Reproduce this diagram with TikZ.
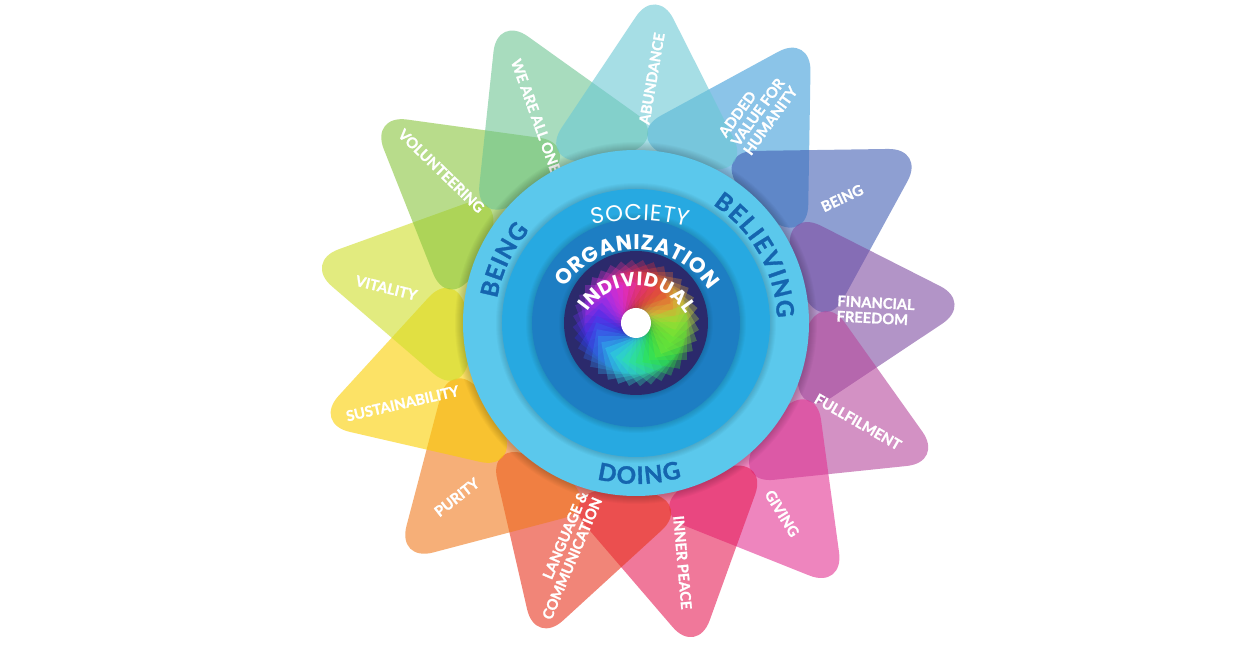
\documentclass[tikz,border=0pt]{standalone}
\usepackage{fontspec}
\setmainfont{Lato}[BoldFeatures={FakeBold=1.3}]
\newfontfamily\geofont{Poppins}
\usetikzlibrary{decorations.text}

\definecolor{ringout}{HTML}{5BC8EC}
\definecolor{ringmid}{HTML}{27A9E1}
\definecolor{ringin}{HTML}{1D7EC3}
\definecolor{core}{HTML}{2B2A6C}
\definecolor{wordblue}{HTML}{1565AF}
\definecolor{pAbund}{RGB}{107,200,213}
\definecolor{pAdded}{RGB}{63,157,217}
\definecolor{pBeing}{RGB}{67,95,180}
\definecolor{pFinance}{RGB}{128,77,163}
\definecolor{pFulfil}{RGB}{183,73,157}
\definecolor{pGiving}{RGB}{227,53,147}
\definecolor{pPeace}{RGB}{230,30,88}
\definecolor{pLang}{RGB}{233,53,30}
\definecolor{pPurity}{RGB}{240,123,30}
\definecolor{pSustain}{RGB}{250,207,0}
\definecolor{pVital}{RGB}{208,223,43}
\definecolor{pVolunt}{RGB}{138,198,63}
\definecolor{pOne}{RGB}{110,197,147}

\begin{document}
\begin{tikzpicture}[%
    x=0.75pt, y=0.75pt,
    petal/.style={fill=#1, fill opacity=0.6, rounded corners=28pt},
    petal label/.style={text=white, inner sep=0pt, font=\bfseries\fontsize{11}{11.5}\selectfont},
    ring shadow/.style={fill=black, fill opacity=0.025},
    ring word/.style={decorate, decoration={text along path, text align=fit to path, text color=#1}}
  ]
  \useasboundingbox[fill=white] (-636,-326) rectangle (604,323);
  \coordinate (c) at (0,0);

  % petals, clockwise, abundance last
  \foreach \a/\col in {58.8/pAdded, 31.1/pBeing, 3.4/pFinance, -24.3/pFulfil,
      -52.0/pGiving, -79.6/pPeace, -107.3/pLang, -135.0/pPurity,
      -162.7/pSustain, -190.4/pVital, -218.1/pVolunt, -245.8/pOne, 86.5/pAbund}
    \fill[petal=\col, rotate=\a] (158,0) -- (158,105) -- (338,0) -- (158,-105) -- cycle;

  \foreach \a/\r/\txt/\al [count=\i] in {86.3/245/ABUNDANCE/center,
      60/244/{ADDED\\VALUE FOR\\HUMANITY}/left, 31.2/241/BEING/center,
      3/240/{FINANCIAL\\FREEDOM}/left, -24/243/FULLFILMENT/center,
      -52.5/240/GIVING/center, -79/244/INNER PEACE/center,
      -107/243/{LANGUAGE \&\\COMMUNICATION}/right, -135.8/250/PURITY/center,
      -161/247/SUSTAINABILITY/center, 172/252/VITALITY/center,
      142/247/VOLUNTEERING/center, 115.8/230/WE ARE ALL ONE/center}
  {
    \pgfmathsetmacro\rot{cos(\a)>0 ? \a-6 : \a+174}
    \node[petal label, align=\al, rotate=\rot] (lab\i) at (\a:\r) {\txt};
  }

  % rings
  \foreach \i in {1,...,8} \fill[ring shadow] (c) circle (173+\i);
  \fill[ringout] (c) circle (173);
  \foreach \i in {1,...,6} \fill[ring shadow] (c) circle (134+\i);
  \fill[ringmid] (c) circle (134);
  \foreach \i in {1,...,6} \fill[ring shadow] (c) circle (104+\i);
  \fill[ringin] (c) circle (104);
  \foreach \i in {1,...,5} \fill[ring shadow] (c) circle (72+\i);
  \fill[core] (c) circle (72);

  % colour swirl
  \foreach \s in {0,10,...,350}{
    \pgfmathsetmacro\h{mod(800-\s,360)}
    \definecolor{swirl}{Hsb}{\h,0.8,0.95}
    \fill[swirl, fill opacity=0.3, shift={(\s:37)}, rotate=\s+30] (-19,-19) rectangle (19,19);
  }
  \fill[white] (c) circle (15);

  % ring words
  \path[ring word=white, decoration={text={|\geofont\fontsize{17}{17}\selectfont|SOCIETY}}]
    ([shift={(0,-100)}]102.5:203) arc[start angle=102.5, end angle=75.2, radius=203];
  \path[ring word=white, decoration={text={|\geofont\bfseries\fontsize{16}{16}\selectfont|ORGANIZATION}}]
    ([shift={(0,-13)}]146:86) arc[start angle=146, end angle=32, radius=86];
  \path[ring word=white, decoration={text={|\geofont\bfseries\fontsize{14.5}{14.5}\selectfont|INDIVIDUAL}}]
    ([shift={(0,-21)}]146:58) arc[start angle=146, end angle=31, radius=58];
  \path[ring word=wordblue, decoration={text={|\bfseries\fontsize{18}{18}\selectfont|BEING}}]
    (170:141) arc[start angle=170, end angle=139, radius=141];
  \path[ring word=wordblue, decoration={text={|\bfseries\fontsize{18}{18}\selectfont|BELIEVING}}]
    (57:141) arc[start angle=57, end angle=2, radius=141];
  \path[ring word=wordblue, decoration={text={|\bfseries\fontsize{18}{18}\selectfont|DOING}}]
    (-104:161) arc[start angle=-104, end angle=-73.5, radius=161];
\end{tikzpicture}
\end{document}
